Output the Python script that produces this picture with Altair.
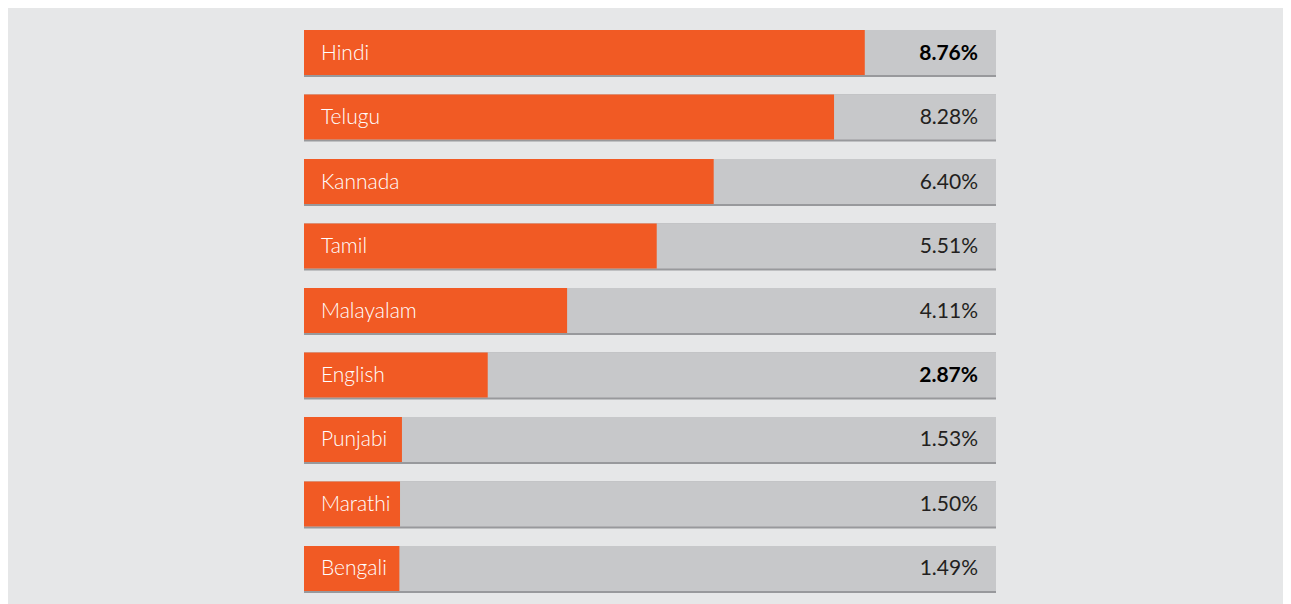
import altair as alt
import pandas as pd

languages = ["Hindi", "Telugu", "Kannada", "Tamil", "Malayalam", "English", "Punjabi", "Marathi", "Bengali"]
values = [8.76, 8.28, 6.40, 5.51, 4.11, 2.87, 1.53, 1.50, 1.49]
labels = ["8.76%", "8.28%", "6.40%", "5.51%", "4.11%", "2.87%", "1.53%", "1.50%", "1.49%"]
bold = [True, False, False, False, False, True, False, False, False]
XMAX = 10.81

df = pd.DataFrame({"lang": languages, "value": values, "label": labels, "bold": bold})

ORANGE = "#f15a24"
TRACK = "#c7c8ca"
LINE = "#98999c"
BG = "#e6e7e8"
FONT = "Lato"

xs = alt.Scale(domain=[0, XMAX], nice=False, zero=True)
ys = alt.Scale(domain=languages, paddingInner=0.271, paddingOuter=0)

base = alt.Chart(df).encode(
    y=alt.Y("lang:N", scale=ys, axis=None, sort=languages)
)

line = base.mark_bar(color=LINE).encode(
    x=alt.datum(0, scale=xs, axis=None), x2=alt.datum(XMAX)
)
track = base.mark_bar(color=TRACK, height=45, yOffset=-1).encode(
    x=alt.datum(0, scale=xs, axis=None), x2=alt.datum(XMAX)
)
bars = base.mark_bar(color=ORANGE, height=45, yOffset=-1).encode(
    x=alt.X("value:Q", scale=xs, axis=None)
)
names = base.mark_text(align="left", baseline="middle", color="white", font=FONT,
                       fontSize=21, fontWeight=300, dx=17, dy=0).encode(
    x=alt.datum(0, scale=xs), text="lang:N"
)
vals_norm = base.transform_filter("!datum.bold").mark_text(
    align="right", baseline="middle", color="#231f20", font=FONT,
    fontSize=21, fontWeight=400, dx=-18, dy=0).encode(
    x=alt.datum(XMAX, scale=xs), text="label:N"
)
vals_bold = base.transform_filter("datum.bold").mark_text(
    align="right", baseline="middle", color="#000000", font=FONT,
    fontSize=21, fontWeight="bold", dx=-18, dy=0).encode(
    x=alt.datum(XMAX, scale=xs), text="label:N"
)

chart = alt.layer(line, track, bars, names, vals_norm, vals_bold).properties(
    width=692, height=563,
    autosize=alt.AutoSizeParams(type="none"),
    padding={"left": 296, "top": 22, "right": 287, "bottom": 11},
    background=BG,
).configure_view(stroke=None)

chart.save("out.html", embed_options={"renderer": "svg", "actions": False})
